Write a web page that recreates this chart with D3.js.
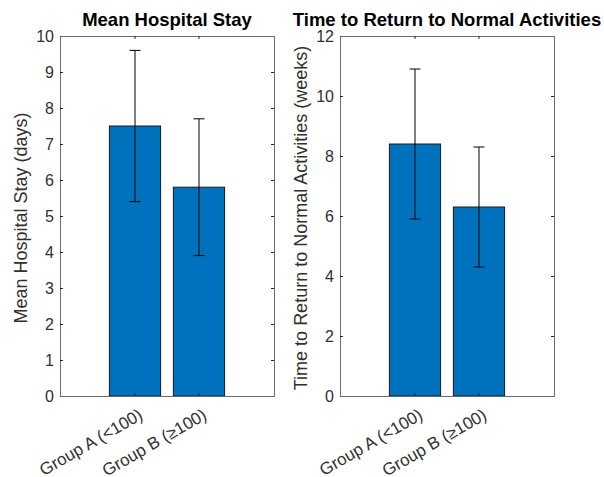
<!DOCTYPE html>
<html><head><meta charset="utf-8">
<script src="https://cdn.jsdelivr.net/npm/d3@7"></script>
<style>body{margin:0;background:#fff;} svg{display:block;font-family:"Liberation Sans",Arial,sans-serif;}</style>
</head><body>
<svg id="c" width="604" height="477"></svg>
<script>
const categories = ["Group A (<100)", "Group B (\u2265100)"];
const hospitalMeans = [7.5, 5.8];
const hospitalErrors = [2.1, 1.9];
const returnMeans = [8.4, 6.3];
const returnErrors = [2.5, 2.0];
const hospitalTicks = [0,1,2,3,4,5,6,7,8,9,10];
const returnTicks = [0,2,4,6,8,10,12];
const titles = ["Mean Hospital Stay", "Time to Return to Normal Activities"];
const yLabels = ["Mean Hospital Stay (days)", "Time to Return to Normal Activities (weeks)"];

const svg = d3.select("#c");
const axisColor = "#6b6b6b", textColor = "#303030";
const FF = '"Liberation Sans", Arial, sans-serif';

function panel(x0, x1, y0, y1, means, errs, ticks, ymax, title, ylabel, labelX) {
  const g = svg.append("g");
  const x = d3.scaleBand().domain(categories).range([x0, x1]).paddingInner(0.2).paddingOuter(0.772);
  const y = d3.scaleLinear().domain([0, ymax]).range([y1, y0]);
  g.selectAll("rect.bar").data(categories).enter().append("rect")
    .attr("x", d => x(d)).attr("width", x.bandwidth())
    .attr("y", (d,i) => y(means[i])).attr("height", (d,i) => y(0) - y(means[i]))
    .attr("fill", "#0072BD").attr("stroke", "#1a1a1a").attr("stroke-width", 1);
  const tl = 3;
  const left = d3.axisLeft(y).tickValues(ticks).tickSize(-tl).tickPadding(6).tickFormat(d3.format("d"));
  const right = d3.axisRight(y).tickValues(ticks).tickSize(-tl).tickFormat("");
  const bottom = d3.axisBottom(x).tickSize(-tl).tickFormat("");
  const top = d3.axisTop(x).tickSize(-tl).tickFormat("");
  const gl = g.append("g").attr("transform", `translate(${x0},0)`).call(left);
  g.append("g").attr("transform", `translate(${x1},0)`).call(right);
  g.append("g").attr("transform", `translate(0,${y1})`).call(bottom);
  g.append("g").attr("transform", `translate(0,${y0})`).call(top);
  g.selectAll(".domain").attr("stroke", axisColor).attr("stroke-width", 1);
  g.selectAll(".tick line").attr("stroke", "#262626").attr("stroke-width", 1);
  gl.attr("font-family", FF).attr("font-size", 16);
  gl.selectAll("text").attr("fill", textColor);
  g.selectAll("text.xl").data(categories).enter().append("text")
    .attr("class", "xl")
    .attr("transform", d => `translate(${x(d) + x.bandwidth()/2 + 3},${y1 + 12}) rotate(-30)`)
    .attr("text-anchor", "end").attr("dy", "0.7em")
    .style("font-size", "17px").attr("fill", textColor).text(d => d);
  const cap = 5.5;
  categories.forEach((c, i) => {
    const cx = x(c) + x.bandwidth()/2;
    const yt = y(means[i] + errs[i]), yb = y(means[i] - errs[i]);
    g.append("line").attr("x1", cx).attr("x2", cx).attr("y1", yt).attr("y2", yb).attr("stroke", "#000").attr("stroke-width", 1);
    g.append("line").attr("x1", cx-cap).attr("x2", cx+cap).attr("y1", yt).attr("y2", yt).attr("stroke", "#000").attr("stroke-width", 1);
    g.append("line").attr("x1", cx-cap).attr("x2", cx+cap).attr("y1", yb).attr("y2", yb).attr("stroke", "#000").attr("stroke-width", 1);
  });
  g.append("text").attr("x", (x0 + x1)/2).attr("y", 26).attr("text-anchor", "middle")
    .style("font-size", "18.5px").style("font-weight", "bold").attr("fill", "#000").text(title);
  g.append("text").attr("transform", `translate(${labelX},${(y0+y1)/2 + 2}) rotate(-90)`)
    .attr("text-anchor", "middle").style("font-size", "18px").attr("fill", textColor).text(ylabel);
}

panel(60, 274, 36, 396, hospitalMeans, hospitalErrors, hospitalTicks, 10, titles[0], yLabels[0], 27);
panel(340, 554, 36, 396, returnMeans, returnErrors, returnTicks, 12, titles[1], yLabels[1], 307);
</script>
</body></html>
